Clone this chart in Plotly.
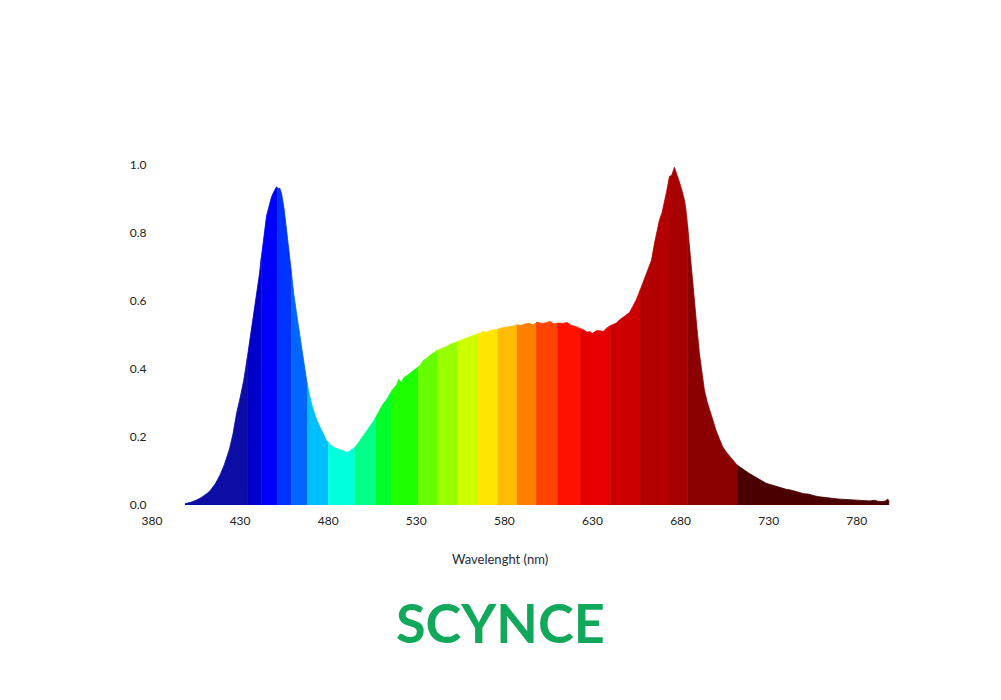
import numpy as np
import plotly.graph_objects as go

# Spectrum (wavelength nm, relative intensity)
wavelength = [398.7, 402, 405, 408, 411, 413, 416, 418.6, 421, 424, 426, 428, 430, 432, 434,
              435.6, 437.5, 439.4, 441, 442.2, 444, 445, 446.5, 447.9, 449.5, 450.7, 451.5, 452.5,
              453.5, 455, 456.4, 458, 459.2, 460.5, 462, 463.5, 464.9, 466.3, 467.7, 469.5, 471.5,
              473.5, 475.3, 477, 479, 481, 483, 485, 487, 489, 490.5, 492, 493.5, 495.2, 497, 499,
              501.8, 504, 505.5, 507.5, 509.5, 511, 513.2, 515, 516.5, 518.8, 520, 521.5, 523, 524.5,
              526.4, 528, 530, 532, 534, 535.5, 537.6, 540, 542, 544.5, 547.1, 549, 551.5, 553,
              556.5, 559, 561.5, 564, 566, 568, 570, 572.5, 575.4, 578, 581, 584.8, 587, 589.5, 592,
              594.3, 596.5, 598.5, 601, 603.7, 606, 608, 610.5, 613.2, 615.5, 618, 620, 622.6, 625,
              627, 628.3, 630, 632, 634, 636, 638, 639.6, 641.5, 643.5, 645.3, 647.5, 649, 651, 653,
              654.8, 656.5, 658.6, 660.5, 662.3, 663.5, 665.2, 666.5, 668, 669.5, 670.8, 672, 673.7,
              675, 676.5, 677.5, 679.3, 680.5, 682.2, 683, 684, 685, 686, 687, 687.9, 689.3, 690.7,
              692, 693.5, 695, 696.4, 698, 700.1, 702, 703.9, 706, 708, 709.6, 711.5, 713.5, 715.3,
              717, 719, 721, 723.5, 726, 728.5, 731, 733.5, 735.5, 737.9, 740, 742.5, 745, 747.4,
              750, 752.5, 755, 756.8, 759, 761.5, 764, 766.3, 769, 771.5, 774, 775.7, 778, 780.5,
              782.5, 785.2, 787.5, 790, 792, 794.5, 796.5, 797.5, 798.2]
intensity = [0.004, 0.008, 0.014, 0.022, 0.033, 0.042, 0.063, 0.088, 0.118, 0.165, 0.21, 0.27, 0.315, 0.365, 0.43,
             0.485, 0.55, 0.63, 0.68, 0.735, 0.80, 0.85, 0.88, 0.907, 0.925, 0.936, 0.93, 0.932,
             0.917, 0.87, 0.81, 0.74, 0.68, 0.62, 0.565, 0.51, 0.456, 0.41, 0.368, 0.32, 0.28,
             0.25, 0.23, 0.21, 0.19, 0.178, 0.17, 0.165, 0.162, 0.158, 0.155, 0.158, 0.163, 0.17, 0.182, 0.196,
             0.216, 0.232, 0.245, 0.262, 0.282, 0.296, 0.31, 0.325, 0.34, 0.353, 0.37, 0.36, 0.375, 0.38,
             0.387, 0.395, 0.402, 0.41, 0.425, 0.43, 0.44, 0.448, 0.455, 0.46, 0.466, 0.472, 0.476, 0.48,
             0.487, 0.492, 0.498, 0.503, 0.505, 0.51, 0.508, 0.515, 0.515, 0.52, 0.523, 0.526, 0.53, 0.528, 0.533,
             0.534, 0.53, 0.538, 0.534, 0.536, 0.54, 0.533, 0.535, 0.534, 0.537, 0.528, 0.526, 0.52, 0.515,
             0.508, 0.51, 0.505, 0.512, 0.513, 0.51, 0.52, 0.526, 0.53, 0.535, 0.544, 0.553, 0.558, 0.566, 0.585,
             0.603, 0.625, 0.652, 0.68, 0.70, 0.72, 0.77, 0.80, 0.838, 0.86, 0.887, 0.92, 0.966,
             0.97, 0.993, 0.98, 0.951, 0.93, 0.897, 0.87, 0.82, 0.76, 0.70, 0.65, 0.603, 0.52, 0.446,
             0.39, 0.338, 0.305, 0.28, 0.25, 0.22, 0.195, 0.171, 0.155, 0.142, 0.132, 0.12, 0.112, 0.106,
             0.1, 0.093, 0.087, 0.08, 0.072, 0.064, 0.06, 0.056, 0.052, 0.049, 0.046, 0.044, 0.04, 0.036,
             0.033, 0.032, 0.028, 0.026, 0.024, 0.022, 0.021, 0.02, 0.018, 0.017, 0.016, 0.015, 0.014, 0.014,
             0.013, 0.013, 0.012, 0.014, 0.011, 0.01, 0.012, 0.018, 0.012]

# Colour bands (edges in nm) and their colours
band_edges = [398.7, 434, 442, 451, 459, 468, 480, 495, 507, 516, 531, 542, 553.5, 565, 576, 587,
              598, 610, 623, 640, 657, 674, 684, 712, 798.2]
band_colors = ["#0d0da6", "#0000c8", "#0000ff", "#0033ff", "#0066ff", "#00bfff", "#00ffdd", "#00ff88",
               "#00ff2a", "#1eff00", "#66ff00", "#99ff00", "#ccff00", "#ffe600", "#ffbb00", "#ff8000",
               "#ff4400", "#ff1100", "#e60000", "#cc0000", "#b30000", "#a60000", "#8b0000", "#4a0000"]

x_ticks = [380, 430, 480, 530, 580, 630, 680, 730, 780]
y_ticks = [0.0, 0.2, 0.4, 0.6, 0.8, 1.0]
x_title = "Wavelenght (nm)"
brand = "SCYNCE"

wl = np.array(wavelength, dtype=float)
iv = np.array(intensity, dtype=float)

fig = go.Figure()
for i, col in enumerate(band_colors):
    a, b = band_edges[i], band_edges[i + 1]
    mask = (wl > a) & (wl < b)
    xs = [a] + list(wl[mask]) + [b, b, a]
    ys = [float(np.interp(a, wl, iv))] + list(iv[mask]) + [float(np.interp(b, wl, iv)), 0, 0]
    fig.add_trace(go.Scatter(x=xs, y=ys, mode="lines", fill="toself", fillcolor=col,
                             line=dict(color=col, width=0.8), hoverinfo="skip", showlegend=False))

# page body has an 8px margin; figure sized to fit inside the window
W, H = 985, 684
L, T, PW, PH = 144, 157, 740, 340
page_center = 492  # horizontal centre of the page inside the figure
title_x = (page_center - L) / PW

fig.update_layout(
    width=W, height=H,
    margin=dict(l=L, r=W - L - PW, t=T, b=H - T - PH),
    paper_bgcolor="white", plot_bgcolor="white",
    font=dict(family="Lato, sans-serif", size=12, color="#222222"),
    xaxis=dict(range=[380, 800], tickvals=x_ticks, showgrid=False, zeroline=False,
               showline=False, ticks="outside", ticklen=5, tickcolor="rgba(0,0,0,0)",
               tickfont=dict(size=12, color="#222222")),
    yaxis=dict(range=[0, 1.0], tickvals=y_ticks, tickformat=".1f", showgrid=False,
               zeroline=False, showline=False, ticks="outside", ticklen=2,
               tickcolor="rgba(0,0,0,0)", tickfont=dict(size=12, color="#222222")),
    annotations=[
        dict(text=x_title, xref="paper", yref="paper", x=title_x, y=0, yshift=-54,
             xanchor="center", yanchor="middle", showarrow=False,
             font=dict(family="Lato, sans-serif", size=13, color="#1d2b3a")),
        dict(text="<b>" + brand + "</b>", xref="paper", yref="paper", x=title_x, y=0, yshift=-117,
             xanchor="center", yanchor="middle", showarrow=False,
             font=dict(family="Lato, sans-serif", size=54, color="#12a85c")),
    ],
)

fig.write_html("out.html")
